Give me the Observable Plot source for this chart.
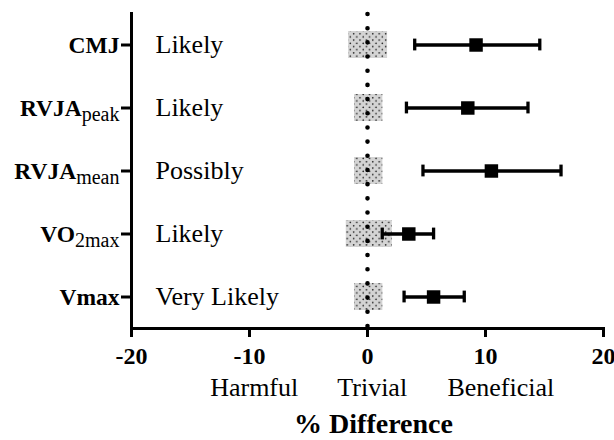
<!DOCTYPE html>
<html>
<head>
<meta charset="utf-8">
<script src="https://cdn.jsdelivr.net/npm/d3@7"></script>
<script src="https://cdn.jsdelivr.net/npm/@observablehq/plot@0.6"></script>
<style>
  html, body { margin: 0; padding: 0; background: #fff; }
</style>
</head>
<body>
<div id="chart"></div>
<script>
// Outcome measures (label "base|subscript")
const measures = ["CMJ", "RVJA|peak", "RVJA|mean", "VO|2max", "Vmax"];
// Mean % difference and 90% CI
const meanDiff = [9.2, 8.5, 10.5, 3.5, 5.6];
const ciLow = [4.0, 3.3, 4.7, 1.25, 3.1];
const ciHigh = [14.6, 13.6, 16.4, 5.6, 8.2];
// Smallest worthwhile change (trivial zone)
const trivialLow = [-1.6, -1.1, -1.1, -1.8, -1.1];
const trivialHigh = [1.7, 1.3, 1.3, 2.1, 1.3];
// Qualitative inference
const inference = ["Likely", "Likely", "Possibly", "Likely", "Very Likely"];
// Region labels under the x axis
const regionNames = ["Harmful", "Trivial", "Beneficial"];
const regionAt = [-9.6, 0.4, 11.3];
const xTicks = [-20, -10, 0, 10, 20];

const rows = measures.map((m, i) => ({
  measure: m, mean: meanDiff[i], lo: ciLow[i], hi: ciHigh[i],
  tlo: trivialLow[i], thi: trivialHigh[i], inf: inference[i]
}));
const regions = regionNames.map((r, i) => ({name: r, x: regionAt[i]}));

const serif = "'Liberation Serif', 'Times New Roman', serif";

const plot = Plot.plot({
  width: 614,
  height: 440,
  marginLeft: 131,
  marginRight: 11,
  marginTop: 12,
  marginBottom: 112,
  style: {fontFamily: serif, color: "#000", background: "#fff", overflow: "visible"},
  x: {domain: [-20, 20]},
  y: {domain: measures, padding: 0},
  marks: [
    // trivial zone boxes
    Plot.barX(rows, {x1: "tlo", x2: "thi", y: "measure", insetTop: 18, insetBottom: 18, fill: "url(#dotpat)"}),
    // zero line (dotted)
    Plot.ruleX([0], {stroke: "#000", strokeWidth: 4.6, strokeDasharray: "0,14.18", strokeLinecap: "round", strokeDashoffset: -2}),
    // error bars
    Plot.ruleY(rows, {x1: "lo", x2: "hi", y: "measure", stroke: "#000", strokeWidth: 3.3}),
    Plot.tickX(rows, {x: "lo", y: "measure", stroke: "#000", strokeWidth: 3.3, insetTop: 25.6, insetBottom: 25.6}),
    Plot.tickX(rows, {x: "hi", y: "measure", stroke: "#000", strokeWidth: 3.3, insetTop: 25.6, insetBottom: 25.6}),
    Plot.dot(rows, {x: "mean", y: "measure", symbol: "square", r: 7.6, fill: "#000", stroke: null}),
    // inference labels
    Plot.text(rows, {x: -20, y: "measure", text: "inf", dx: 24, textAnchor: "start", fontSize: 26, fill: "#000"}),
    // axes lines
    Plot.ruleX([-20], {stroke: "#000", strokeWidth: 3}),
    Plot.frame({anchor: "bottom", stroke: "#000", strokeWidth: 3}),
    Plot.axisY({tickSize: 10, tickPadding: 2, strokeWidth: 3, fontSize: 23.5, fontWeight: "bold", label: null, tickFormat: d => d}),
    Plot.axisX({ticks: xTicks, tickSize: 9, tickPadding: 9, strokeWidth: 3, fontSize: 24, fontWeight: "bold", label: null, tickFormat: d => String(d)}),
    // region labels
    Plot.text(regions, {x: "x", text: "name", frameAnchor: "bottom", dy: 67, fontSize: 26, fill: "#000"}),
    // axis title
    Plot.text(["% Difference"], {x: () => 0, text: d => d, frameAnchor: "bottom", dx: 6, dy: 104, fontSize: 28, fontWeight: "bold", fill: "#000"})
  ]
});

// pattern definition for trivial zone
const ns = "http://www.w3.org/2000/svg";
const defs = document.createElementNS(ns, "defs");
defs.innerHTML = `<pattern id="dotpat" patternUnits="userSpaceOnUse" width="6.4" height="6.4">
  <rect width="6.4" height="6.4" fill="#d4d4d4"/>
  <circle cx="1.6" cy="1.6" r="0.8" fill="#111"/>
  <circle cx="4.8" cy="4.8" r="0.8" fill="#111"/>
</pattern>`;
plot.insertBefore(defs, plot.firstChild);

// subscripts on y tick labels
plot.querySelectorAll('g[aria-label="y-axis tick label"] text').forEach(t => {
  const s = t.textContent;
  if (s.includes("|")) {
    const [base, sub] = s.split("|");
    t.textContent = base;
    const ts = document.createElementNS(ns, "tspan");
    ts.setAttribute("dy", "5");
    ts.setAttribute("font-size", "20");
    ts.setAttribute("font-weight", "normal");
    ts.textContent = sub;
    t.appendChild(ts);
  }
});

document.getElementById("chart").appendChild(plot);
</script>
</body>
</html>
